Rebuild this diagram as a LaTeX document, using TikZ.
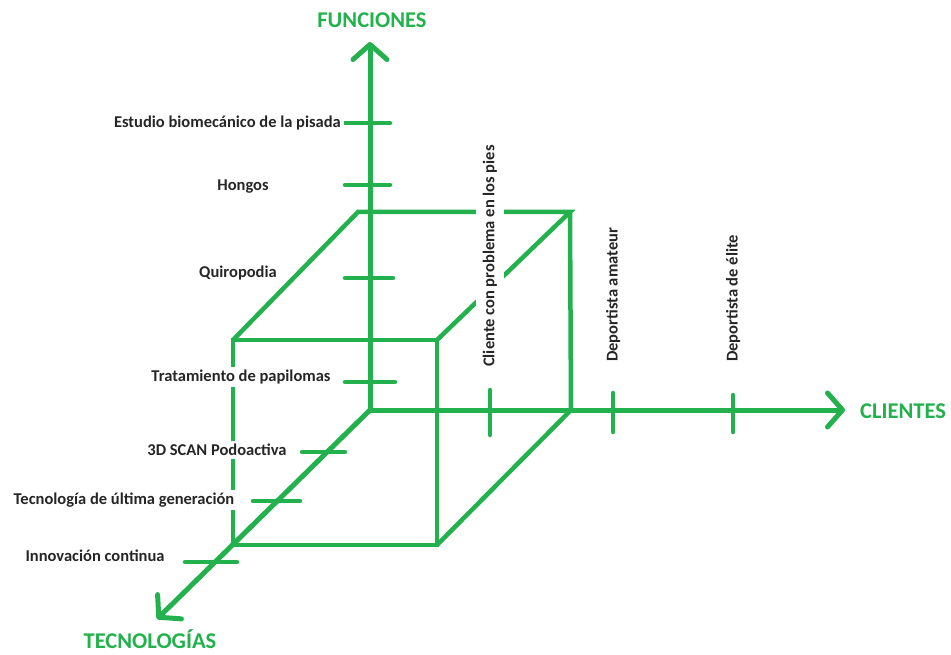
\documentclass[tikz,border=0pt]{standalone}
\usepackage{fontspec}
\setmainfont{Carlito}
\usetikzlibrary{arrows.meta}
\definecolor{paintgreen}{HTML}{22B14C}

\begin{document}
\begin{tikzpicture}[
    x=1pt, y=-1pt,
    font=\bfseries\fontsize{16.5}{18}\selectfont,
    % estilos
    axis/.style={line width=5pt, paintgreen, line cap=round, -{Straight Barb[length=15pt, width=34pt, round]}},
    edge/.style={line width=4.5pt, paintgreen},
    tick/.style={line width=4.5pt, paintgreen, line cap=round},
    label/.style={fill=white, inner sep=3pt, text=black!85},
    vlabel/.style={fill=white, inner xsep=3pt, inner ysep=7pt, text=black!85, rotate=90, anchor=west},
    title/.style={font=\bfseries\fontsize{22.5}{24}\selectfont, text=paintgreen, inner sep=1pt}
]
    \useasboundingbox (0,0) rectangle (951,655);

    % --- ejes ---
    \coordinate (O) at (370,410);
    \coordinate (ftip) at (370,42);
    \coordinate (ctip) at (845,410);
    \coordinate (ttip) at (157,619);
    \draw [axis] (O) -- (ftip);
    \draw [axis] (O) -- (ctip);
    \draw [axis] (O) -- (ttip);

    % --- cubo ---
    \coordinate (fbl) at (233,545);
    \coordinate (fbr) at (437,545);
    \coordinate (ftr) at (437,340);
    \coordinate (ftl) at (233,340);
    \coordinate (bbr) at (571,410);
    \coordinate (btr) at (570,212);
    \coordinate (btl) at (358,212);
    \draw [edge] (fbl) -- (fbr) -- (ftr) -- (ftl) -- cycle;
    \draw [edge] (ftl) -- (btl) -- (btr) -- (ftr);
    \draw [edge] (btr) -- (bbr) -- (fbr);

    % --- marcas ---
    \draw [tick] (345,123) -- (390,123);
    \draw [tick] (345,185) -- (390,185);
    \draw [tick] (345,278) -- (393,278);
    \draw [tick] (345,382) -- (395,382);
    \draw [tick] (490,390) -- (490,435);
    \draw [tick] (613,393) -- (613,432);
    \draw [tick] (733,395) -- (733,432);
    \draw [tick] (302,452) -- (345,452);
    \draw [tick] (253,501) -- (300,501);
    \draw [tick] (185,562) -- (237,562);

    % --- funciones ---
    \node (f1) [label, anchor=east] at (344,123) {Estudio biomecánico de la pisada};
    \node (f2) [label] at (243,187) {Hongos};
    \node (f3) [label] at (238,273) {Quiropodia};
    \node (f4) [label] at (241,377) {Tratamiento de papilomas};

    % --- clientes ---
    \node (c1) [vlabel] at (490,370) {Cliente con problema en los pies};
    \node (c2) [vlabel] at (613,365) {Deportista amateur};
    \node (c3) [vlabel] at (733,365) {Deportista de élite};

    % --- tecnologías ---
    \node (t1) [label] at (217,450) {3D SCAN Podoactiva};
    \node (t2) [label] at (124,500) {Tecnología de última generación};
    \node (t3) [label] at (95,556) {Innovación continua};

    % --- títulos ---
    \node (funciones) [title] at (372,20) {FUNCIONES};
    \node (clientes) [title] at (903,411) {CLIENTES};
    \node (tecnologias) [title] at (150,639) {TECNOLOGÍAS};

\end{tikzpicture}
\end{document}
